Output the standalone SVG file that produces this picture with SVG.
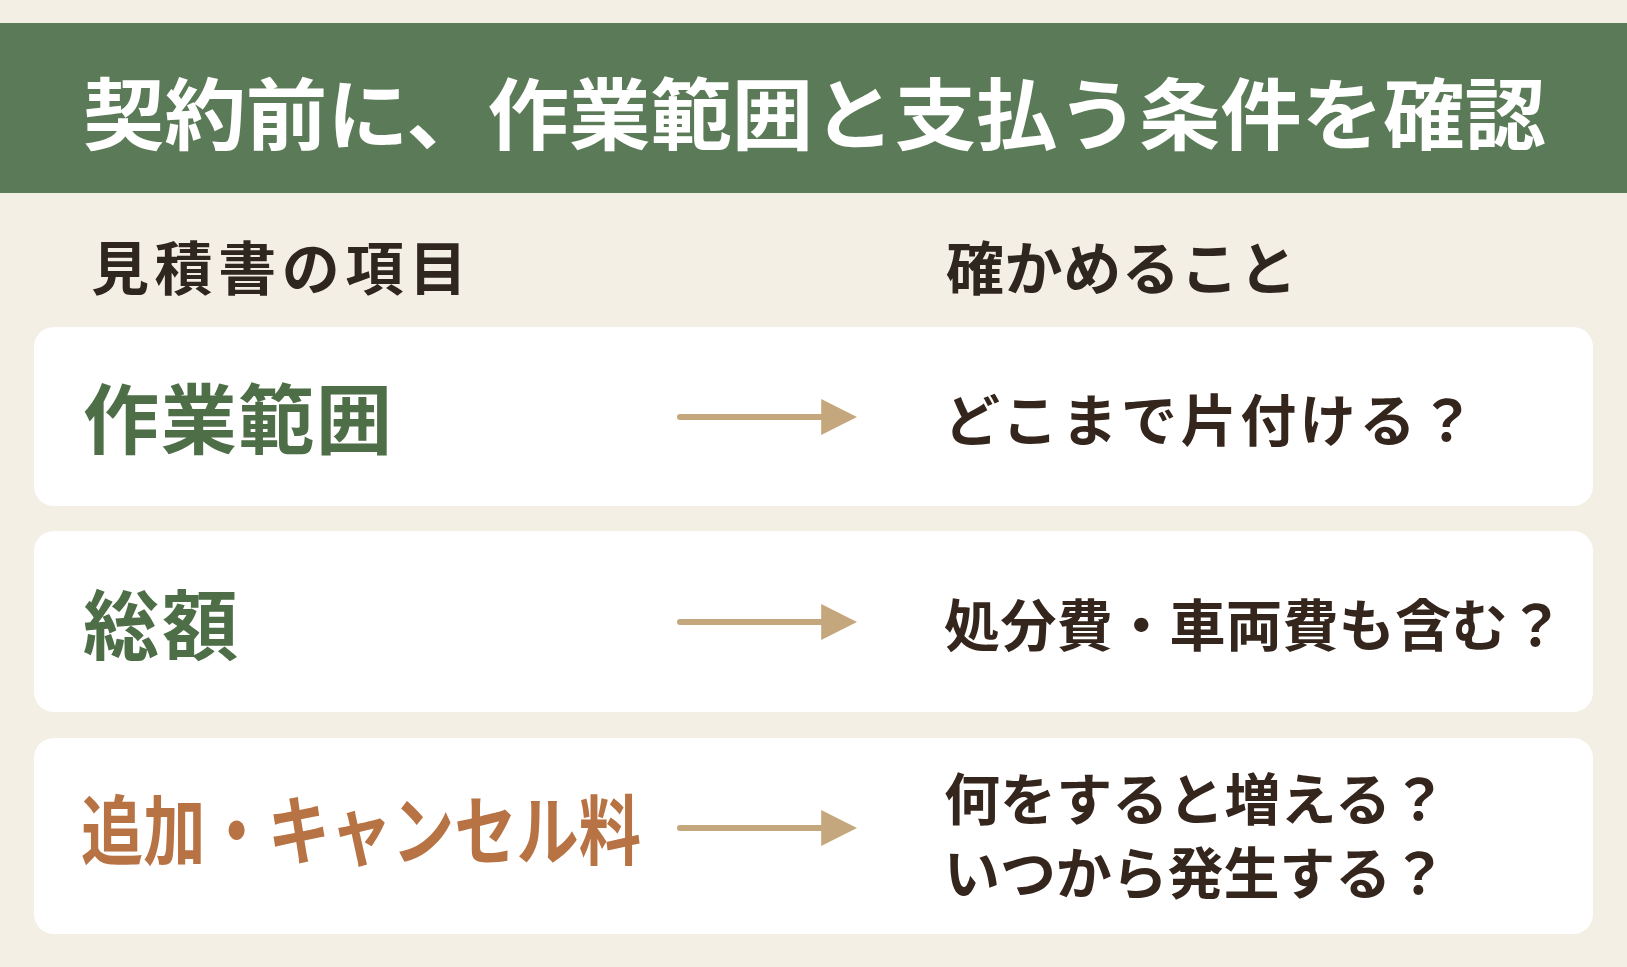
<svg xmlns="http://www.w3.org/2000/svg" width="1627" height="967" viewBox="0 0 1627 967">
<style>
text{font-family:"Noto Sans CJK JP","Noto Sans",sans-serif;font-weight:700}
.h{font-size:58px;fill:#2f2620}
.l{font-size:76px;fill:#4d6e47}
.r{font-size:56px;fill:#35261d}
.card{fill:#ffffff}
.c{stroke:#c4a77c;stroke-width:6;fill:none;stroke-linecap:round}
</style>
<defs><marker id="a" viewBox="0 0 10 10" refX="3" refY="5" markerWidth="6" markerHeight="6.5" orient="auto" markerUnits="strokeWidth"><path d="M0,0 L10,5 L0,10 Z" fill="#c4a77c"/></marker></defs>
<rect width="1627" height="967" fill="#f4efe5"/>
<rect x="0" y="23" width="1627" height="170" fill="#5b7a58"/>
<text x="83" y="144" font-size="78" fill="#ffffff" textLength="1463" lengthAdjust="spacingAndGlyphs">契約前に、作業範囲と支払う条件を確認</text>
<text class="h" x="91" y="290" textLength="376">見積書の項目</text>
<text class="h" x="946" y="290" textLength="351">確かめること</text>
<g id="n1"><rect class="card" x="34" y="327" width="1559" height="179" rx="20"/><text class="l" x="83" y="448" textLength="309">作業範囲</text><text class="r" x="944" y="441" textLength="531">どこまで片付ける？</text></g>
<g id="n2"><rect class="card" x="34" y="531" width="1559" height="181" rx="20"/><text class="l" x="83" y="654" textLength="155">総額</text><text class="r" x="944" y="646" textLength="620">処分費・車両費も含む？</text></g>
<g id="n3"><rect class="card" x="34" y="738" width="1559" height="196" rx="20"/><text class="l" x="81" y="859" style="fill:#b87345" textLength="560" lengthAdjust="spacingAndGlyphs">追加・キャンセル料</text><text class="r" x="944" y="820" textLength="503">何をすると増える？</text><text class="r" x="944" y="894" textLength="503">いつから発生する？</text></g>
<g id="connectors">
<line class="c" x1="680" y1="417" x2="832" y2="417" marker-end="url(#a)"/>
<line class="c" x1="680" y1="622" x2="832" y2="622" marker-end="url(#a)"/>
<line class="c" x1="680" y1="828" x2="832" y2="828" marker-end="url(#a)"/>
</g>
</svg>
